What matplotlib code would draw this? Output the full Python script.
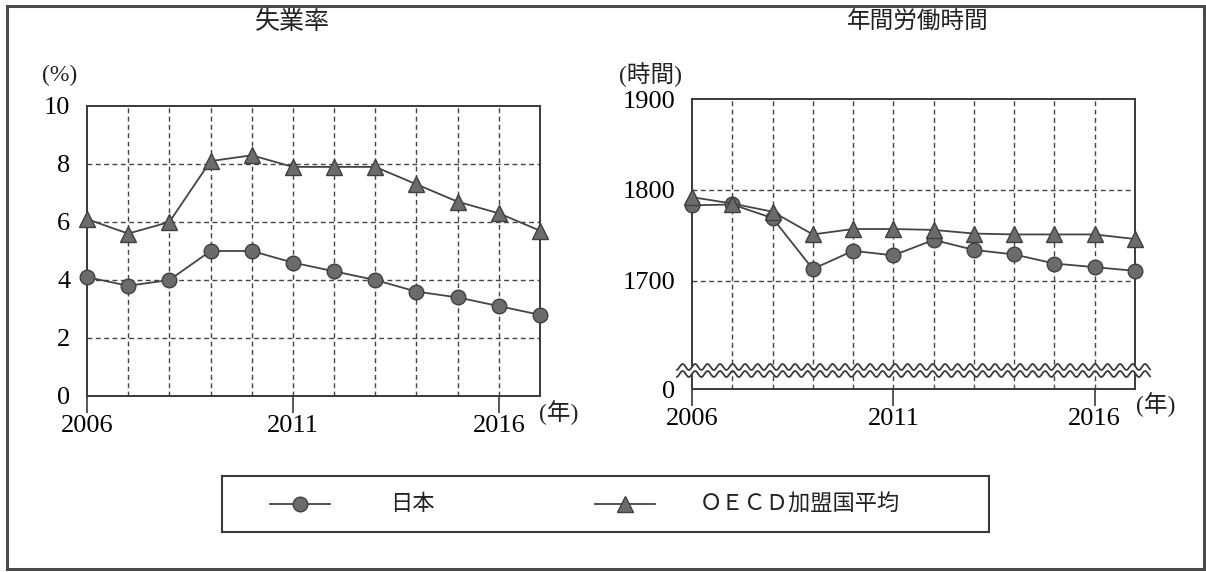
import matplotlib.pyplot as plt
import matplotlib.patches as mpatches
import numpy as np

# data
years = list(range(2006, 2018))
unemp_japan = [4.1, 3.8, 4.0, 5.0, 5.0, 4.6, 4.3, 4.0, 3.6, 3.4, 3.1, 2.8]
unemp_oecd = [6.1, 5.6, 6.0, 8.1, 8.3, 7.9, 7.9, 7.9, 7.3, 6.7, 6.3, 5.7]
hours_japan = [1783, 1784, 1769, 1713, 1733, 1728, 1745, 1734, 1729, 1719, 1715, 1711]
hours_oecd = [1792, 1785, 1776, 1751, 1757, 1757, 1756, 1752, 1751, 1751, 1751, 1746]

year_ticks = [2006, 2011, 2016]
unemp_ticks = [0, 2, 4, 6, 8, 10]
hours_ticks = [1700, 1800, 1900]
hours_floor = 1581  # value drawn at the bottom of the broken axis, labelled 0

W, H = 1206, 572
SERIF = ["Liberation Serif", "Noto Sans CJK JP"]
CJK = ["Noto Sans CJK JP", "DejaVu Sans"]
INK = "#3a3a3a"
LINE = "#444444"
FILL = "#6b6b6b"

plt.rcParams["font.family"] = SERIF


def px(x0, y0, w, h):
    # pixel box (top-left origin) -> figure fraction rect
    return [x0 / W, 1 - (y0 + h) / H, w / W, h / H]


def style_axes(ax):
    ax.set_xlim(2006, 2017)
    for s in ax.spines.values():
        s.set_color(INK)
        s.set_linewidth(1.4)
    for yr in years[1:-1]:
        ax.axvline(yr, color=LINE, lw=1.0, ls=(0, (3.5, 2.5)), zorder=1)
    ax.set_xticks(year_ticks)
    ax.set_xticklabels([str(y) for y in year_ticks], fontsize=19)
    ax.tick_params(axis="x", direction="out", length=12, width=1.2, color=INK, pad=2)
    ax.tick_params(axis="y", length=0, pad=12, labelsize=19)


def draw_series(ax, y1, y2):
    ax.plot(years, y1, color=LINE, lw=1.3, marker="o", ms=10.5,
            mfc=FILL, mec="#404040", mew=1.0, zorder=4, clip_on=False)
    ax.plot(years, y2, color=LINE, lw=1.3, marker="^", ms=11,
            mfc=FILL, mec="#404040", mew=1.0, zorder=4, clip_on=False)


fig = plt.figure(figsize=(W / 100, H / 100), dpi=100)

# outer frame
fig.patches.append(mpatches.Rectangle((7 / W, 1 - 569 / H), 1197 / W, 563 / H,
                                      transform=fig.transFigure, fill=False,
                                      ec="#4a4a4a", lw=2.2))

# left: unemployment rate
ax1 = fig.add_axes(px(87, 106, 453, 290))
style_axes(ax1)
ax1.set_ylim(0, 10)
ax1.set_yticks(unemp_ticks)
for v in unemp_ticks[1:-1]:
    ax1.axhline(v, color=LINE, lw=1.0, ls=(0, (3.5, 2.5)), zorder=1)
draw_series(ax1, unemp_japan, unemp_oecd)
fig.text(292 / W, 1 - 22 / H, "失業率", family=CJK, fontsize=18,
         ha="center", va="center", color="#222222")
fig.text(60 / W, 1 - 75 / H, "(%)", fontsize=17, ha="center", va="center", color="#222222")
fig.text(559 / W, 1 - 413 / H, "(年)", fontsize=17, ha="center", va="center", color="#222222")

# right: annual working hours (broken axis)
ax2 = fig.add_axes(px(692, 99, 443, 290))
style_axes(ax2)
ax2.set_ylim(hours_floor, 1900)
ax2.set_yticks([hours_floor] + hours_ticks)
ax2.set_yticklabels(["0"] + [str(v) for v in hours_ticks])
for v in hours_ticks[:-1]:
    ax2.axhline(v, color=LINE, lw=1.0, ls=(0, (3.5, 2.5)), zorder=1)
draw_series(ax2, hours_japan, hours_oecd)
fig.text(918 / W, 1 - 22 / H, "年間労働時間", family=CJK, fontsize=17,
         ha="center", va="center", color="#222222")
fig.text(650 / W, 1 - 75 / H, "(時間)", fontsize=17, ha="center", va="center", color="#222222")
fig.text(1156 / W, 1 - 405 / H, "(年)", fontsize=17, ha="center", va="center", color="#222222")

# wavy break marks
wx = np.linspace(-0.034, 1.034, 600)
period = 12.5 / 443
amp = 3.0 / 290
up = (389 - 367) / 290 + amp * np.sin(2 * np.pi * wx / period)
lo = (389 - 374) / 290 + amp * np.sin(2 * np.pi * wx / period)
gap = mpatches.Polygon(np.column_stack([np.r_[wx, wx[::-1]], np.r_[up, lo[::-1]]]),
                       closed=True, transform=ax2.transAxes, fc="white", ec="none",
                       zorder=5, clip_on=False)
ax2.add_patch(gap)
ax2.plot(wx, up, color=INK, lw=1.3, transform=ax2.transAxes, zorder=6, clip_on=False)
ax2.plot(wx, lo, color=INK, lw=1.3, transform=ax2.transAxes, zorder=6, clip_on=False)

# legend box
lg = fig.add_axes(px(222, 476, 767, 56))
lg.set_xlim(222, 989)
lg.set_ylim(532, 476)
lg.set_xticks([])
lg.set_yticks([])
for s in lg.spines.values():
    s.set_color(INK)
    s.set_linewidth(1.5)
lg.plot([270, 330], [504, 504], color=LINE, lw=1.3)
lg.plot([300], [504], marker="o", ms=10.5, mfc=FILL, mec="#404040", mew=1.0)
lg.text(390, 504, "日本", family=CJK, fontsize=16, ha="left", va="center", color="#222222")
lg.plot([595, 655], [504, 504], color=LINE, lw=1.3)
lg.plot([625], [504], marker="^", ms=11, mfc=FILL, mec="#404040", mew=1.0)
lg.text(700, 504, "ＯＥＣＤ加盟国平均", family=CJK, fontsize=16, ha="left",
        va="center", color="#222222")

fig.savefig("out.png", dpi=100)
